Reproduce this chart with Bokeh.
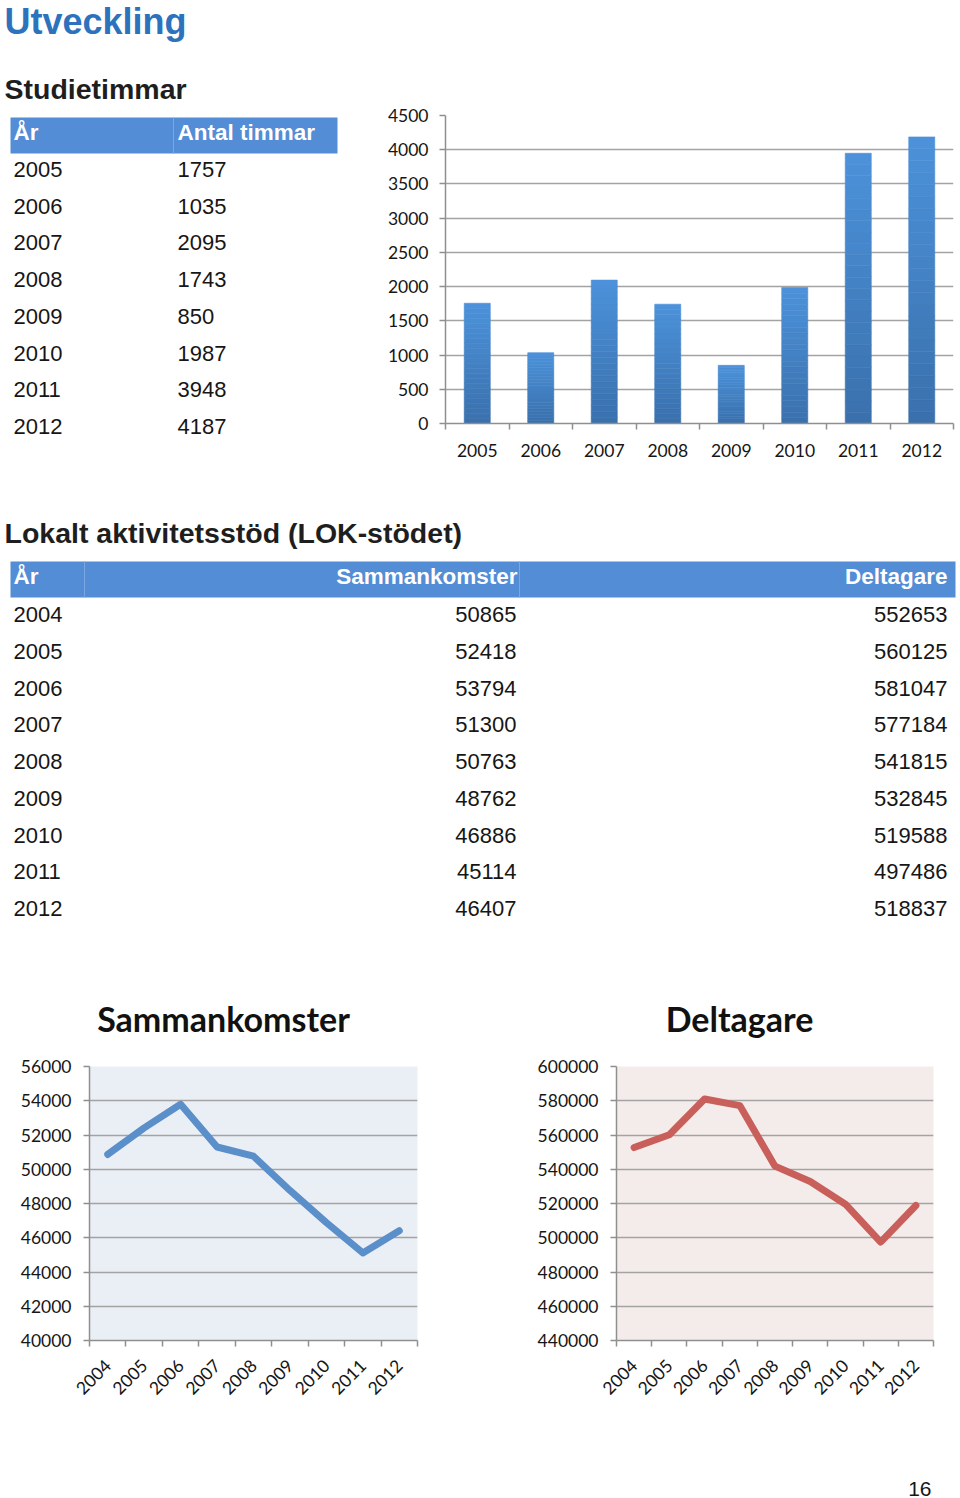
import math
from bokeh.plotting import figure
from bokeh.models import Range1d, FixedTicker, BasicTickFormatter
from bokeh.layouts import column, row
from bokeh.core.properties import value
from bokeh.embed import file_html
from bokeh.resources import INLINE

# ---------------- data ----------------
study_years = ["2005", "2006", "2007", "2008", "2009", "2010", "2011", "2012"]
study_hours = [1757, 1035, 2095, 1743, 850, 1987, 3948, 4187]
study_header = ["År", "Antal timmar"]

lok_years = ["2004", "2005", "2006", "2007", "2008", "2009", "2010", "2011", "2012"]
lok_meetings = [50865, 52418, 53794, 51300, 50763, 48762, 46886, 45114, 46407]
lok_participants = [552653, 560125, 581047, 577184, 541815, 532845, 519588, 497486, 518837]
lok_header = ["År", "Sammankomster", "Deltagare"]

page_title = "Utveckling"
section1 = "Studietimmar"
section2 = "Lokalt aktivitetsstöd (LOK-stödet)"
chart_titles = ["Sammankomster", "Deltagare"]
page_number = "16"

# ---------------- styles ----------------
ARIAL = "Liberation Sans"
CAL = "Lato"
HEAD_BLUE = "#538dd5"
SEP = "#7aa7e0"
TXT = "#161616"
GRID = "#a3a3a3"
AXC = "#8f8f8f"


def canvas(w, h):
    p = figure(width=w, height=h, x_range=Range1d(0, w), y_range=Range1d(h, 0),
               output_backend="svg", toolbar_location=None,
               x_axis_location=None, y_axis_location=None, min_border=0)
    p.grid.visible = False
    p.outline_line_color = None
    p.frame_align = False
    return p


def txt(p, xs, ys, texts, size, bold=False, color=TXT, align="left", font=ARIAL):
    p.text(x=xs, y=ys, text=texts, text_font=value(font), text_font_size=value(size),
           text_font_style="bold" if bold else "normal", text_color=color,
           text_align=align, text_baseline="middle")


# ---------------- top-left: headings + table (page rows 0..470) ----------------
fa = canvas(380, 470)
fa.quad(left=[10], right=[337], top=[117], bottom=[153], fill_color=HEAD_BLUE, line_color=None)
fa.segment(x0=[173], y0=[117], x1=[173], y1=[153], line_color=SEP, line_width=1)
txt(fa, [4], [21], [page_title], "36px", bold=True, color="#2c72bd")
txt(fa, [4], [88], [section1], "28.5px", bold=True, color="#1e1e1e")
txt(fa, [13, 177], [132, 132], study_header, "22.5px", bold=True, color="white")
m = len(study_years)
sy = [169 + i * 36.7 for i in range(m)]
txt(fa, [13] * m, sy, study_years, "22px")
txt(fa, [177] * m, sy, [str(v) for v in study_hours], "22px")

# ---------------- top-right: bar chart ----------------
yrs = [int(y) for y in study_years]
fb = figure(width=580, height=470, x_range=Range1d(yrs[0] - 0.5, yrs[-1] + 0.5),
            y_range=Range1d(0, 4500), output_backend="svg", toolbar_location=None,
            min_border_left=65, min_border_right=7, min_border_top=115, min_border_bottom=47)
fb.frame_align = False
fb.outline_line_color = None
fb.xgrid.visible = False
fb.ygrid.grid_line_color = GRID
fb.ygrid.grid_line_width = 1.5
fb.yaxis.ticker = FixedTicker(ticks=list(range(0, 4501, 500)))
fb.xaxis.ticker = FixedTicker(ticks=yrs, minor_ticks=[y - 0.5 for y in yrs] + [yrs[-1] + 0.5])
fb.xaxis.major_label_overrides = {y: s for y, s in zip(yrs, study_years)}
for ax in (fb.xaxis, fb.yaxis):
    ax.axis_line_color = AXC
    ax.axis_line_width = 1.5
    ax.major_tick_line_color = AXC
    ax.major_tick_line_width = 1.5
    ax.minor_tick_line_color = AXC
    ax.minor_tick_line_width = 1.5
    ax.major_label_text_font = CAL
    ax.major_label_text_font_size = "17.5px"
    ax.major_label_text_color = TXT
fb.yaxis.major_tick_out = 6
fb.yaxis.major_tick_in = 0
fb.yaxis.minor_tick_out = 0
fb.yaxis.minor_tick_in = 0
fb.yaxis.major_label_standoff = 11
fb.xaxis.major_tick_out = 0
fb.xaxis.major_tick_in = 0
fb.xaxis.minor_tick_out = 6
fb.xaxis.minor_tick_in = 0
fb.xaxis.major_label_standoff = 14

# gradient bars (dark bottom -> light top)
N = 24
c0 = (58, 112, 172)
c1 = (76, 146, 218)
bx, bb, bt, bc = [], [], [], []
for y, v in zip(yrs, study_hours):
    for k in range(N):
        f = (k + 0.5) / N
        col = "#%02x%02x%02x" % tuple(int(round(a + (b - a) * f)) for a, b in zip(c0, c1))
        bx.append(y)
        bb.append(v * k / N)
        bt.append(v * (k + 1) / N)
        bc.append(col)
fb.vbar(x=bx, bottom=bb, top=bt, width=0.41, fill_color=bc, line_color=bc, line_width=0.6)

# ---------------- LOK table (page rows 470..1043) ----------------
Y0 = 470
fl = canvas(960, 573)
txt(fl, [4], [532 - Y0], [section2], "28.5px", bold=True, color="#1e1e1e")
fl.quad(left=[10], right=[955], top=[561 - Y0], bottom=[597 - Y0], fill_color=HEAD_BLUE, line_color=None)
fl.segment(x0=[84, 519], y0=[561 - Y0] * 2, x1=[84, 519], y1=[597 - Y0] * 2, line_color=SEP, line_width=1)
txt(fl, [13], [576 - Y0], [lok_header[0]], "22.5px", bold=True, color="white")
txt(fl, [517, 947], [576 - Y0] * 2, lok_header[1:], "22.5px", bold=True, color="white", align="right")
n = len(lok_years)
ly = [614 - Y0 + i * 36.75 for i in range(n)]
txt(fl, [13] * n, ly, lok_years, "22px")
txt(fl, [516] * n, ly, [str(v) for v in lok_meetings], "22px", align="right")
txt(fl, [947] * n, ly, [str(v) for v in lok_participants], "22px", align="right")
txt(fl, [223, 739], [1018 - Y0] * 2, chart_titles, "34px", bold=True, color="#111111", align="center", font=CAL)


# ---------------- line charts (page rows 1043..1423) ----------------
def line_chart(vals, ylo, yhi, step, color, bg, bl, br):
    xs = [int(y) for y in lok_years]
    p = figure(width=480, height=380, x_range=Range1d(xs[0] - 0.5, xs[-1] + 0.5),
               y_range=Range1d(ylo, yhi), output_backend="svg", toolbar_location=None,
               min_border_left=bl, min_border_right=br, min_border_top=23, min_border_bottom=83)
    p.frame_align = False
    p.outline_line_color = None
    p.background_fill_color = bg
    p.xgrid.visible = False
    p.ygrid.grid_line_color = GRID
    p.ygrid.grid_line_width = 1.5
    p.yaxis.ticker = FixedTicker(ticks=list(range(ylo, yhi + 1, step)))
    p.yaxis.formatter = BasicTickFormatter(use_scientific=False)
    p.xaxis.ticker = FixedTicker(ticks=xs, minor_ticks=[x - 0.5 for x in xs] + [xs[-1] + 0.5])
    p.xaxis.major_label_overrides = {x: s for x, s in zip(xs, lok_years)}
    p.xaxis.major_label_orientation = math.pi / 4
    for ax in (p.xaxis, p.yaxis):
        ax.axis_line_color = AXC
        ax.axis_line_width = 1.5
        ax.major_tick_line_color = AXC
        ax.major_tick_line_width = 1.5
        ax.minor_tick_line_color = AXC
        ax.minor_tick_line_width = 1.5
        ax.major_label_text_font = CAL
        ax.major_label_text_font_size = "17.5px"
        ax.major_label_text_color = TXT
    p.yaxis.major_tick_out = 6
    p.yaxis.major_tick_in = 0
    p.yaxis.minor_tick_out = 0
    p.yaxis.minor_tick_in = 0
    p.yaxis.major_label_standoff = 12
    p.xaxis.major_tick_out = 0
    p.xaxis.major_tick_in = 0
    p.xaxis.minor_tick_out = 6
    p.xaxis.minor_tick_in = 0
    p.xaxis.major_label_standoff = 16
    p.line(xs, vals, line_color=color, line_width=7, line_join="round", line_cap="round")
    return p


p1 = line_chart(lok_meetings, 40000, 56000, 2000, "#5a8fca", "#eaeef5", 89, 63)
p2 = line_chart(lok_participants, 440000, 600000, 20000, "#c95f5a", "#f4ecea", 136, 27)

# ---------------- footer (page rows 1423..1498) ----------------
ff = canvas(960, 75)
txt(ff, [931], [1488 - 1423], [page_number], "21px", align="right")

layout = column(row(fa, fb), fl, row(p1, p2), ff)
open("out.html", "w").write(file_html(layout, INLINE))
